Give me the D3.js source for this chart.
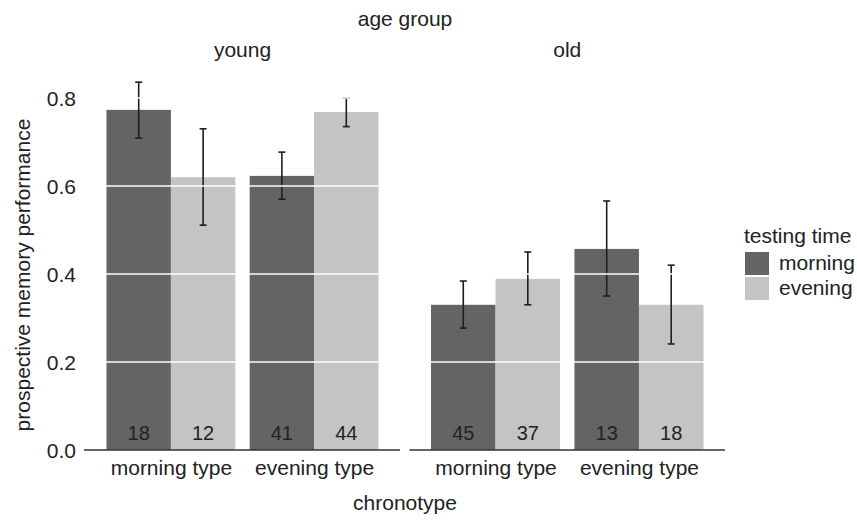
<!DOCTYPE html>
<html>
<head>
<meta charset="utf-8">
<script src="https://cdn.jsdelivr.net/npm/d3@7"></script>
<style>
  html, body { margin: 0; padding: 0; background: #fff; }
  svg { display: block; font-family: "Liberation Sans", Arial, Helvetica, sans-serif; }
</style>
</head>
<body>
<svg id="chart" width="857" height="520"></svg>
<script>
// ---- data ----
const ageGroups = ["young", "old"];
const chronotypes = ["morning type", "evening type"];
const testingTimes = ["morning", "evening"];
// values [age][chronotype][testing time]
const youngMeans  = [[0.773, 0.620], [0.623, 0.768]];
const youngLower  = [[0.709, 0.511], [0.570, 0.735]];
const youngUpper  = [[0.836, 0.730], [0.677, 0.800]];
const youngCounts = [[18, 12], [41, 44]];
const oldMeans    = [[0.330, 0.389], [0.457, 0.330]];
const oldLower    = [[0.277, 0.330], [0.350, 0.241]];
const oldUpper    = [[0.384, 0.450], [0.566, 0.420]];
const oldCounts   = [[45, 37], [13, 18]];
const yTicks = [0.0, 0.2, 0.4, 0.6, 0.8];
const gridValues = [0.2, 0.4, 0.6, 0.8];

const meansBy  = { young: youngMeans, old: oldMeans };
const lowerBy  = { young: youngLower, old: oldLower };
const upperBy  = { young: youngUpper, old: oldUpper };
const countsBy = { young: youngCounts, old: oldCounts };

const rows = [];
ageGroups.forEach(a => chronotypes.forEach((c, ci) => testingTimes.forEach((t, ti) => {
  rows.push({ age: a, chrono: c, time: t,
    mean: meansBy[a][ci][ti], lo: lowerBy[a][ci][ti], hi: upperBy[a][ci][ti], n: countsBy[a][ci][ti] });
})));

// ---- layout ----
const svg = d3.select("#chart");
const textColor = "#222";
const fs = 21;
const panelRange = { young: [85, 400], old: [409.5, 725] };
const y = d3.scaleLinear().domain([0, 0.8]).range([450, 98]);
const fill = d3.scaleOrdinal().domain(testingTimes).range(["#646464", "#c4c4c4"]);

const xScales = {};
ageGroups.forEach(a => {
  xScales[a] = d3.scalePoint().domain(chronotypes).range(panelRange[a]).padding(0.6);
});
const sub = d3.scaleBand().domain(testingTimes).paddingInner(0).paddingOuter(0);

ageGroups.forEach(a => {
  const x = xScales[a];
  const w = x.step() * 0.9;
  sub.range([-w / 2, w / 2]);
  const g = svg.append("g");
  const data = rows.filter(r => r.age === a);

  g.selectAll("rect.bar").data(data).join("rect")
    .attr("class", "bar")
    .attr("x", d => x(d.chrono) + sub(d.time))
    .attr("width", sub.bandwidth())
    .attr("y", d => y(d.mean))
    .attr("height", d => y(0) - y(d.mean))
    .attr("fill", d => fill(d.time));

  // error bars
  const eb = g.selectAll("g.eb").data(data).join("g").attr("class", "eb")
    .attr("transform", d => `translate(${x(d.chrono) + sub(d.time) + sub.bandwidth() / 2},0)`);
  eb.append("line").attr("y1", d => y(d.lo)).attr("y2", d => y(d.hi))
    .attr("stroke", "#1e1e1e").attr("stroke-width", 1.6);
  eb.append("line").attr("x1", -3.5).attr("x2", 3.5).attr("y1", d => y(d.hi)).attr("y2", d => y(d.hi))
    .attr("stroke", "#1e1e1e").attr("stroke-width", 1.6);
  eb.append("line").attr("x1", -3.5).attr("x2", 3.5).attr("y1", d => y(d.lo)).attr("y2", d => y(d.lo))
    .attr("stroke", "#1e1e1e").attr("stroke-width", 1.6);

  // gridlines (drawn on top)
  g.selectAll("line.grid").data(gridValues).join("line")
    .attr("class", "grid")
    .attr("x1", panelRange[a][0]).attr("x2", panelRange[a][1])
    .attr("y1", d => y(d)).attr("y2", d => y(d))
    .attr("stroke", "#fff").attr("stroke-width", 1.6);

  // counts
  g.selectAll("text.n").data(data).join("text")
    .attr("class", "n")
    .attr("x", d => x(d.chrono) + sub(d.time) + sub.bandwidth() / 2)
    .attr("y", 440)
    .attr("text-anchor", "middle")
    .attr("font-size", 20)
    .attr("fill", textColor)
    .text(d => d.n);

  // x axis
  const xAxis = d3.axisBottom(x).tickSize(0).tickPadding(0);
  const ax = g.append("g").attr("transform", `translate(0,${y(0)})`).call(xAxis);
  ax.select(".domain").attr("d", `M${a === "young" ? 84 : panelRange[a][0]},0H${panelRange[a][1]}`)
    .attr("stroke", "#333").attr("stroke-width", 1.6);
  ax.selectAll(".tick text").attr("dy", null).attr("y", 25)
    .attr("font-size", fs).attr("font-family", null).attr("fill", textColor);

  // facet label
  svg.append("text")
    .attr("x", (panelRange[a][0] + panelRange[a][1]) / 2)
    .attr("y", 57)
    .attr("text-anchor", "middle").attr("font-size", fs).attr("fill", textColor)
    .text(a);
});

// y axis
const yAxis = d3.axisLeft(y).tickValues(yTicks).tickFormat(d3.format(".1f")).tickSize(0).tickPadding(0);
const yg = svg.append("g").attr("transform", "translate(76,0)").call(yAxis);
yg.select(".domain").remove();
yg.selectAll(".tick text").attr("x", 0).attr("dy", "0.35em")
  .attr("font-size", fs).attr("font-family", null).attr("fill", textColor);

// titles
svg.append("text").attr("x", 405).attr("y", 26).attr("text-anchor", "middle")
  .attr("font-size", fs).attr("fill", textColor).text("age group");
svg.append("text").attr("x", 405).attr("y", 510).attr("text-anchor", "middle")
  .attr("font-size", fs).attr("fill", textColor).text("chronotype");
svg.append("text").attr("transform", "translate(30,275) rotate(-90)").attr("text-anchor", "middle")
  .attr("font-size", fs).attr("fill", textColor).text("prospective memory performance");

// legend
const lg = svg.append("g");
lg.append("text").attr("x", 744).attr("y", 243).attr("font-size", fs).attr("fill", textColor).text("testing time");
const li = lg.selectAll("g.li").data(testingTimes).join("g").attr("class", "li")
  .attr("transform", (d, i) => `translate(745,${252 + i * 25})`);
li.append("rect").attr("width", 24).attr("height", 23).attr("fill", d => fill(d));
li.append("text").attr("x", 34).attr("y", 18).attr("font-size", fs).attr("fill", textColor).text(d => d);
</script>
</body>
</html>
